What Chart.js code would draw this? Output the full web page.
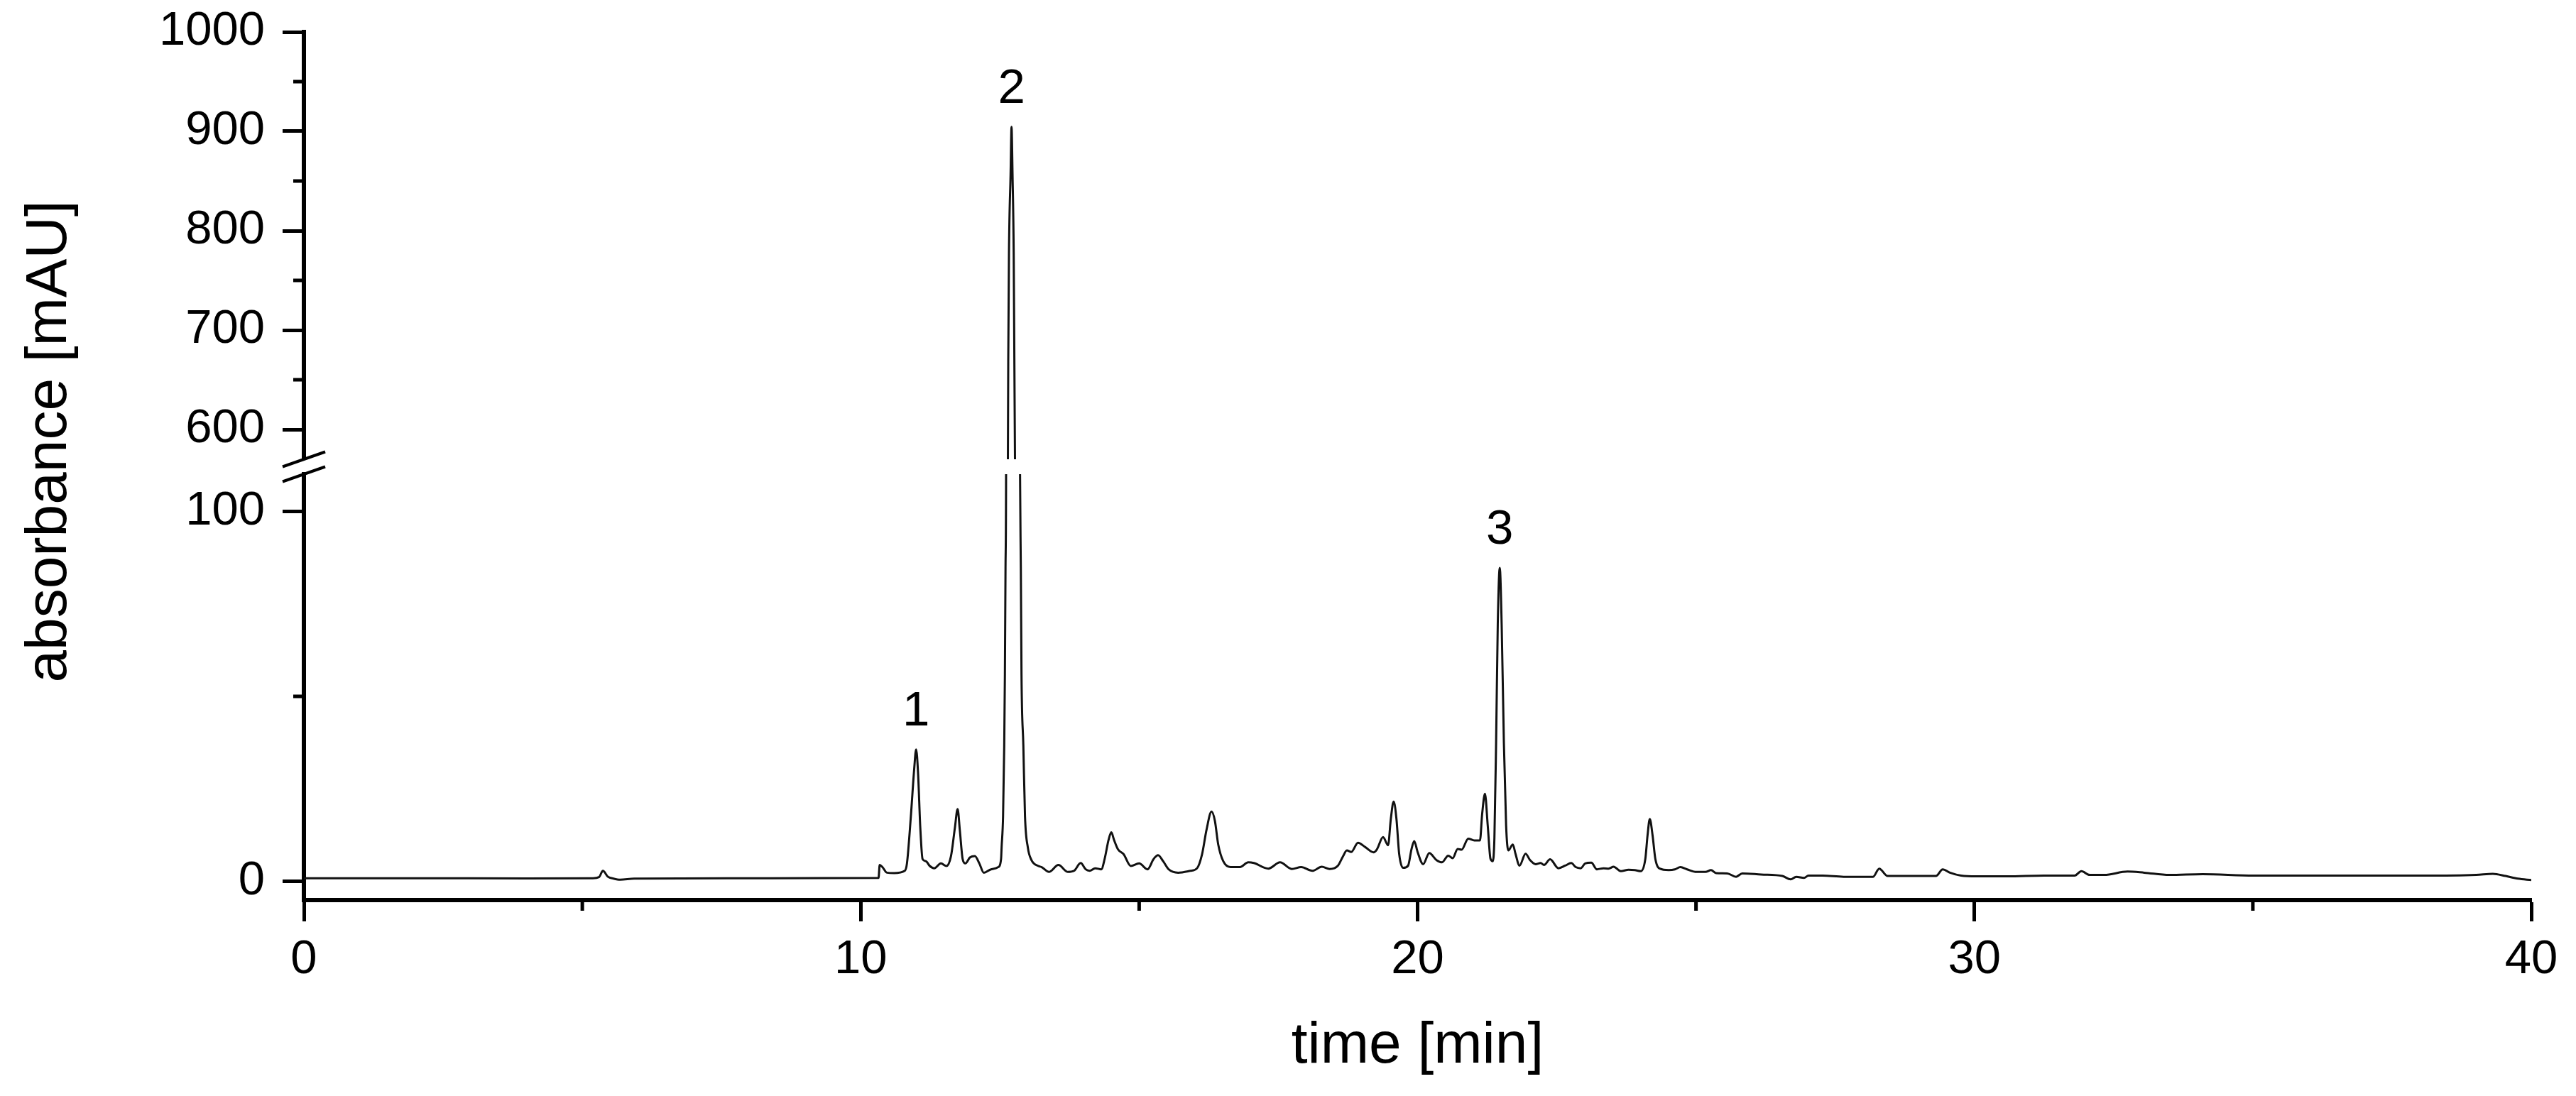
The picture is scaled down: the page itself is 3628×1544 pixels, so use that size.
<!DOCTYPE html>
<html>
<head>
<meta charset="utf-8">
<script src="https://cdn.jsdelivr.net/npm/chart.js@4.4.1/dist/chart.umd.min.js"></script>
<style>
html, body { margin: 0; padding: 0; background: #ffffff; }
#wrap { position: relative; width: 3628px; height: 1544px; background: #ffffff; }
#wrap canvas { position: absolute; left: 0; top: 0; }
</style>
</head>
<body>
<div id="wrap">
  <canvas id="upper" width="3628" height="1544"></canvas>
  <canvas id="lower" width="3628" height="1544"></canvas>
</div>
<script>
// ---- data ----
const times = [
  0, 2.0, 4.0, 5.19, 5.30, 5.37, 5.46, 5.56, 5.68, 5.93, 8.0,
  10.32, 10.34, 10.39, 10.47, 10.60, 10.79, 10.83, 10.90, 10.96, 10.995, 11.03, 11.07, 11.11, 11.17, 11.24, 11.32,
  11.44, 11.54, 11.62, 11.69, 11.74, 11.78, 11.83, 11.88, 11.96, 12.05, 12.13, 12.21, 12.34, 12.47, 12.52, 12.53,
  12.556, 12.577, 12.589, 12.60, 12.61, 12.643, 12.649, 12.662, 12.691, 12.708, 12.726, 12.747, 12.759, 12.77,
  12.861, 12.875, 12.887, 12.92, 12.95, 13.00, 13.066, 13.19, 13.25, 13.38, 13.55, 13.72, 13.83, 13.95, 14.04,
  14.11, 14.21, 14.32, 14.38, 14.45, 14.50, 14.55, 14.62, 14.72, 14.85, 15.00, 15.15, 15.26, 15.34, 15.43, 15.53,
  15.70, 15.92, 16.04, 16.13, 16.21, 16.30, 16.36, 16.42, 16.51, 16.64, 16.81, 16.96, 17.06, 17.32, 17.53, 17.74,
  17.91, 18.11, 18.28, 18.42, 18.57, 18.66, 18.73, 18.81, 18.93, 19.06, 19.21, 19.27, 19.38, 19.47, 19.52, 19.57,
  19.62, 19.67, 19.74, 19.83, 19.89, 19.94, 20.00, 20.10, 20.21, 20.34, 20.44, 20.55, 20.63, 20.72, 20.79, 20.91,
  21.02, 21.12, 21.16, 21.21, 21.26, 21.31, 21.35, 21.38, 21.41, 21.44, 21.476, 21.51, 21.55, 21.59, 21.63, 21.71,
  21.76, 21.83, 21.94, 22.02, 22.12, 22.21, 22.27, 22.38, 22.53, 22.65, 22.76, 22.84, 22.93, 23.01, 23.12, 23.22,
  23.34, 23.43, 23.52, 23.65, 23.79, 23.90, 24.01, 24.09, 24.13, 24.17, 24.22, 24.27, 24.35, 24.51, 24.62, 24.72,
  24.84, 25.01, 25.17, 25.27, 25.36, 25.56, 25.72, 25.83, 26.17, 26.55, 26.70, 26.80, 26.94, 27.02, 27.27, 27.65,
  28.18, 28.29, 28.44, 28.92, 29.31, 29.43, 29.56, 29.76, 30.03, 30.59, 31.25, 31.80, 31.92, 32.07, 32.33, 32.75,
  33.05, 33.50, 34.10, 35.01, 36.52, 38.03, 39.01, 39.31, 39.54, 39.76, 40.00
];
const absorbance = [
  0.9, 0.9, 0.85, 0.9, 1.2, 2.9, 1.3, 0.8, 0.5, 0.8, 0.9,
  1.0, 4.5, 3.9, 2.4, 2.3, 2.9, 4.9, 17.6, 30.4, 35.7, 29.1, 14.4, 6.1, 5.5, 4.2, 3.6,
  4.9, 4.2, 6.8, 14.4, 19.6, 13.8, 6.1, 4.9, 6.5, 6.9, 4.9, 2.4, 3.3, 3.9, 6.1, 9.3,
  17.6, 36.8, 56, 84.7, 110, 571, 668, 777, 857, 904.5, 857, 777, 668, 571,
  110, 84.7, 56, 36.8, 17.6, 9.3, 5.8, 4.2, 3.9, 2.6, 4.5, 2.6, 2.9, 5.0, 3.3,
  2.9, 3.6, 3.3, 6.1, 11.2, 13.3, 11.2, 8.7, 7.4, 4.2, 4.9, 3.3, 6.1, 7.1, 5.5, 3.3,
  2.4, 2.9, 3.6, 7.4, 14.0, 18.9, 16.4, 10.0, 5.5, 3.9, 3.9, 5.2, 5.0, 3.5, 5.2, 3.4,
  3.9, 2.9, 4.0, 3.4, 4.3, 6.8, 8.4, 8.0, 10.5, 9.3, 7.9, 8.7, 12.0, 9.8, 17.0, 21.6,
  17.0, 7.4, 3.7, 4.3, 8.7, 10.9, 8.0, 4.7, 7.7, 5.8, 5.2, 7.0, 6.3, 8.8, 8.6, 11.6,
  11.1, 11.1, 18.3, 23.7, 15.1, 6.1, 5.5, 11.9, 37.4, 69.4, 84.7, 69.4, 37.4, 15.1, 8.4, 10.0,
  7.4, 4.3, 7.5, 5.8, 4.7, 5.0, 4.5, 6.0, 3.6, 4.3, 5.0, 3.9, 3.6, 4.9, 5.1, 3.3,
  3.6, 3.5, 4.0, 2.8, 3.2, 3.1, 2.8, 6.1, 12.5, 16.9, 12.5, 6.1, 3.5, 3.1, 3.3, 3.9,
  3.3, 2.6, 2.6, 3.1, 2.3, 2.2, 1.3, 2.2, 1.9, 1.5, 0.6, 1.3, 1.0, 1.6, 1.6, 1.3,
  1.3, 3.5, 1.5, 1.5, 1.5, 3.3, 2.4, 1.6, 1.4, 1.4, 1.6, 1.6, 2.8, 1.8, 1.8, 2.7,
  2.4, 1.8, 2.0, 1.6, 1.6, 1.6, 1.8, 2.1, 1.5, 0.8, 0.4
];
const xTicks = [0, 10, 20, 30, 40];
const xMinorTicks = [5, 15, 25, 35];
const upperTicks = [600, 700, 800, 900, 1000];
const upperMinorTicks = [650, 750, 850, 950];
const lowerTicks = [0, 100];
const lowerMinorTicks = [50];
const peakLabels = ['1', '2', '3'];
const peakLabelTimes = [10.995, 12.708, 21.476];
const xTitle = 'time [min]';
const yTitle = 'absorbance [mAU]';

// ---- drawing ----
const FONT = "'Liberation Sans', Arial, Helvetica, sans-serif";
const points = times.map((t, i) => ({ x: t, y: absorbance[i] }));

function dataset() {
  return {
    data: points,
    borderColor: '#111111',
    borderWidth: 3,
    pointRadius: 0,
    fill: false,
    cubicInterpolationMode: 'monotone',
    clip: 0
  };
}

function makeMinorTicks(yMinor, xMinor) {
  return {
    id: 'minorTicks',
    afterDraw(chart) {
      const ctx = chart.ctx, a = chart.chartArea;
      const xs = chart.scales.x, ys = chart.scales.y;
      ctx.save();
      ctx.strokeStyle = '#000';
      ctx.lineWidth = 5;
      ctx.beginPath();
      yMinor.forEach(v => {
        const py = ys.getPixelForValue(v);
        ctx.moveTo(a.left - 15, py); ctx.lineTo(a.left, py);
      });
      (xMinor || []).forEach(v => {
        const px = xs.getPixelForValue(v);
        ctx.moveTo(px, a.bottom); ctx.lineTo(px, a.bottom + 15);
      });
      ctx.stroke();
      ctx.restore();
    }
  };
}

function makeBreakMark(atBottom) {
  return {
    id: 'breakMark',
    afterDraw(chart) {
      const ctx = chart.ctx, a = chart.chartArea;
      const yEdge = atBottom ? a.bottom : a.top;
      ctx.save();
      ctx.strokeStyle = '#000';
      ctx.lineWidth = 4;
      ctx.beginPath();
      ctx.moveTo(a.left - 30, yEdge + 10.5);
      ctx.lineTo(a.left + 30, yEdge - 10.5);
      ctx.stroke();
      ctx.restore();
    }
  };
}

const peakLabelPlugin = {
  id: 'peakLabels',
  afterDatasetsDraw(chart) {
    const ctx = chart.ctx, xs = chart.scales.x, ys = chart.scales.y;
    ctx.save();
    ctx.font = '69px ' + FONT;
    ctx.fillStyle = '#000';
    ctx.textAlign = 'center';
    ctx.textBaseline = 'alphabetic';
    peakLabelTimes.forEach((t, k) => {
      let best = 0;
      times.forEach((tt, i) => { if (Math.abs(tt - t) < Math.abs(times[best] - t)) best = i; });
      const v = absorbance[best];
      if (v < ys.min || v > ys.max) return;
      ctx.fillText(peakLabels[k], xs.getPixelForValue(times[best]), ys.getPixelForValue(v) - 34);
    });
    ctx.restore();
  }
};

const yTitlePlugin = {
  id: 'yTitle',
  afterDraw(chart) {
    const ctx = chart.ctx;
    ctx.save();
    ctx.translate(93, 622);
    ctx.rotate(-Math.PI / 2);
    ctx.font = '82px ' + FONT;
    ctx.fillStyle = '#000';
    ctx.textAlign = 'center';
    ctx.textBaseline = 'alphabetic';
    ctx.fillText(yTitle, 0, 0);
    ctx.restore();
  }
};

function yAxis(min, max, tickValues) {
  return {
    type: 'linear',
    min: min,
    max: max,
    afterBuildTicks: s => { s.ticks = tickValues.map(v => ({ value: v })); },
    afterFit: s => { s.width = 428; },
    grid: { display: true, drawOnChartArea: false, drawTicks: true, tickLength: 30, tickWidth: 5, tickColor: '#000' },
    border: { display: true, width: 6, color: '#000' },
    ticks: {
      color: '#000',
      font: { family: FONT, size: 67, lineHeight: 0.5 },
      padding: 25,
      callback: v => String(v)
    }
  };
}

const common = {
  responsive: false,
  animation: false,
  devicePixelRatio: 1,
  events: [],
  plugins: { legend: { display: false }, tooltip: { enabled: false } }
};

new Chart(document.getElementById('upper'), {
  type: 'line',
  data: { datasets: [dataset()] },
  options: Object.assign({}, common, {
    layout: { padding: { top: 45, bottom: 897, left: 0, right: 63 } },
    scales: {
      x: { type: 'linear', min: 0, max: 40, display: false },
      y: yAxis(570, 1000, upperTicks)
    }
  }),
  plugins: [makeMinorTicks(upperMinorTicks, null), makeBreakMark(true), peakLabelPlugin]
});

new Chart(document.getElementById('lower'), {
  type: 'line',
  data: { datasets: [dataset()] },
  options: Object.assign({}, common, {
    layout: { padding: { top: 668, bottom: 0, left: 0, right: 63 } },
    scales: {
      x: {
        type: 'linear', min: 0, max: 40,
        afterBuildTicks: s => { s.ticks = xTicks.map(v => ({ value: v })); },
        afterFit: s => { s.height = 276; },
        grid: { display: true, drawOnChartArea: false, drawTicks: true, tickLength: 30, tickWidth: 5, tickColor: '#000' },
        border: { display: true, width: 6, color: '#000' },
        ticks: { color: '#000', font: { family: FONT, size: 67 }, padding: 14, maxRotation: 0, autoSkip: false, callback: v => String(v) },
        title: { display: true, text: xTitle, color: '#000', font: { family: FONT, size: 82 }, padding: { top: 0, bottom: 20 } }
      },
      y: yAxis(-5, 110, lowerTicks)
    }
  }),
  plugins: [makeMinorTicks(lowerMinorTicks, xMinorTicks), makeBreakMark(false), peakLabelPlugin, yTitlePlugin]
});
</script>
</body>
</html>
